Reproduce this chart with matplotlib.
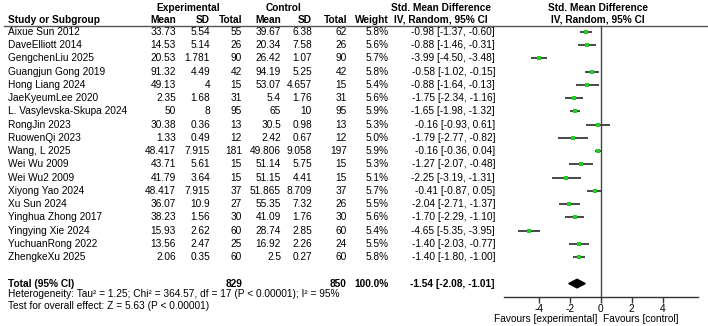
import matplotlib
matplotlib.use("Agg")
import matplotlib.pyplot as plt
from matplotlib.patches import Polygon

plt.rcParams['font.family'] = ['Liberation Sans', 'DejaVu Sans']

# ── data ───────────────────────────────────────────────────────────────
studies = ['Aixue Sun 2012', 'DaveElliott 2014', 'GengchenLiu 2025', 'Guangjun Gong 2019',
           'Hong Liang 2024', 'JaeKyeumLee 2020', 'L. Vasylevska-Skupa 2024', 'RongJin 2023',
           'RuowenQi 2023', 'Wang, L 2025', 'Wei Wu 2009', 'Wei Wu2 2009', 'Xiyong Yao 2024',
           'Xu Sun 2024', 'Yinghua Zhong 2017', 'Yingying Xie 2024', 'YuchuanRong 2022',
           'ZhengkeXu 2025']
exp_mean = [33.73, 14.53, 20.53, 91.32, 49.13, 2.35, 50, 30.38, 1.33, 48.417, 43.71, 41.79,
            48.417, 36.07, 38.23, 15.93, 13.56, 2.06]
exp_sd = [5.54, 5.14, 1.781, 4.49, 4, 1.68, 8, 0.36, 0.49, 7.915, 5.61, 3.64, 7.915, 10.9,
          1.56, 2.62, 2.47, 0.35]
exp_n = [55, 26, 90, 42, 15, 31, 95, 13, 12, 181, 15, 15, 37, 27, 30, 60, 25, 60]
ctl_mean = [39.67, 20.34, 26.42, 94.19, 53.07, 5.4, 65, 30.5, 2.42, 49.806, 51.14, 51.15,
            51.865, 55.35, 41.09, 28.74, 16.92, 2.5]
ctl_sd = [6.38, 7.58, 1.07, 5.25, 4.657, 1.76, 10, 0.98, 0.67, 9.058, 5.75, 4.41, 8.709, 7.32,
          1.76, 2.85, 2.26, 0.27]
ctl_n = [62, 26, 90, 42, 15, 31, 95, 13, 12, 197, 15, 15, 37, 26, 30, 60, 24, 60]
weight = [5.8, 5.6, 5.7, 5.8, 5.4, 5.6, 5.9, 5.3, 5.0, 5.9, 5.3, 5.1, 5.7, 5.5, 5.6, 5.4, 5.5, 5.8]
smd = [-0.98, -0.88, -3.99, -0.58, -0.88, -1.75, -1.65, -0.16, -1.79, -0.16, -1.27, -2.25,
       -0.41, -2.04, -1.70, -4.65, -1.40, -1.40]
ci_lo = [-1.37, -1.46, -4.50, -1.02, -1.64, -2.34, -1.98, -0.93, -2.77, -0.36, -2.07, -3.19,
         -0.87, -2.71, -2.29, -5.35, -2.03, -1.80]
ci_hi = [-0.60, -0.31, -3.48, -0.15, -0.13, -1.16, -1.32, 0.61, -0.82, 0.04, -0.48, -1.31,
         0.05, -1.37, -1.10, -3.95, -0.77, -1.00]
total_smd, total_lo, total_hi = -1.54, -2.08, -1.01
heterogeneity = 'Heterogeneity: Tau\u00b2 = 1.25; Chi\u00b2 = 364.57, df = 17 (P < 0.00001); I\u00b2 = 95%'
overall = 'Test for overall effect: Z = 5.63 (P < 0.00001)'
xticks = [-4, -2, 0, 2, 4]

# ── layout (pixels) ────────────────────────────────────────────────────
W, H = 708, 326
row0, dy = 32, 13.24
rows = [row0 + dy * i for i in range(len(studies))]
y_total = row0 + dy * 19
axis_y = 297
fs = 7.3

fig = plt.figure(figsize=(W / 100, H / 100), dpi=100)
ax = fig.add_axes([0, 0, 1, 1])
ax.set_xlim(0, W)
ax.set_ylim(H, 0)
ax.axis('off')

# column right edges
c_em, c_esd, c_en, c_cm, c_csd, c_cn, c_w, c_ci = 176, 210, 242, 281, 312, 347, 389, 495
x_name = 8

def t(x, y, s, ha='right', bold=False):
    ax.text(x, y, s, ha=ha, va='center', fontsize=fs, fontweight='bold' if bold else 'normal')

# headers
t(188, 8, 'Experimental', ha='center', bold=True)
t(284, 8, 'Control', ha='center', bold=True)
t(441, 8, 'Std. Mean Difference', ha='center', bold=True)
t(598, 8, 'Std. Mean Difference', ha='center', bold=True)
t(x_name, 20, 'Study or Subgroup', ha='left', bold=True)
for x, s in [(c_em, 'Mean'), (c_esd, 'SD'), (c_en, 'Total'), (c_cm, 'Mean'),
             (c_csd, 'SD'), (c_cn, 'Total'), (c_w, 'Weight')]:
    t(x, 20, s, bold=True)
t(441, 20, 'IV, Random, 95% CI', ha='center', bold=True)
t(598, 20, 'IV, Random, 95% CI', ha='center', bold=True)
ax.plot([4, W], [26, 26], color='#555555', lw=1)

# study rows
for i, y in enumerate(rows):
    t(x_name, y, studies[i], ha='left')
    t(c_em, y, f'{exp_mean[i]:g}')
    t(c_esd, y, f'{exp_sd[i]:g}')
    t(c_en, y, f'{exp_n[i]}')
    t(c_cm, y, f'{ctl_mean[i]:g}')
    t(c_csd, y, f'{ctl_sd[i]:g}')
    t(c_cn, y, f'{ctl_n[i]}')
    t(c_w, y, f'{weight[i]:.1f}%')
    t(c_ci, y, f'{smd[i]:.2f} [{ci_lo[i]:.2f}, {ci_hi[i]:.2f}]')

# total row
t(x_name, y_total, 'Total (95% CI)', ha='left', bold=True)
t(c_en, y_total, f'{sum(exp_n)}', bold=True)
t(c_cn, y_total, f'{sum(ctl_n)}', bold=True)
t(c_w, y_total, '100.0%', bold=True)
t(c_ci, y_total, f'{total_smd:.2f} [{total_lo:.2f}, {total_hi:.2f}]', bold=True)
t(x_name, 294, heterogeneity, ha='left')
t(x_name, 306, overall, ha='left')

# ── forest panel ───────────────────────────────────────────────────────
fx0, fx1 = 504, 698
axf = fig.add_axes([fx0 / W, (H - axis_y) / H, (fx1 - fx0) / W, axis_y / H])
axf.set_facecolor('none')
axf.set_xlim(-6.27, 6.29)
axf.set_ylim(axis_y, 0)
for s in ['top', 'left', 'right']:
    axf.spines[s].set_visible(False)
axf.spines['bottom'].set_color('#333333')
axf.spines['bottom'].set_linewidth(1)
axf.set_yticks([])
axf.set_xticks(xticks)
axf.set_xticklabels([f'{v}' for v in xticks], fontsize=fs)
axf.tick_params(axis='x', length=4, width=1, color='#333333', pad=1)

axf.plot([0, 0], [26, axis_y], color='#444444', lw=1)
axf.hlines(rows, ci_lo, ci_hi, color='#3a3a3a', lw=1.3)
axf.plot(smd, rows, 's', color='#22cc22', markersize=2.6, markeredgewidth=0)
dia = Polygon([(total_lo, y_total), (total_smd, y_total - 4.3),
               (total_hi, y_total), (total_smd, y_total + 4.3)],
              closed=True, color='black')
axf.add_patch(dia)

t(597, 319, 'Favours [experimental]')
t(603, 319, 'Favours [control]', ha='left')

fig.savefig('out.png', dpi=100)
